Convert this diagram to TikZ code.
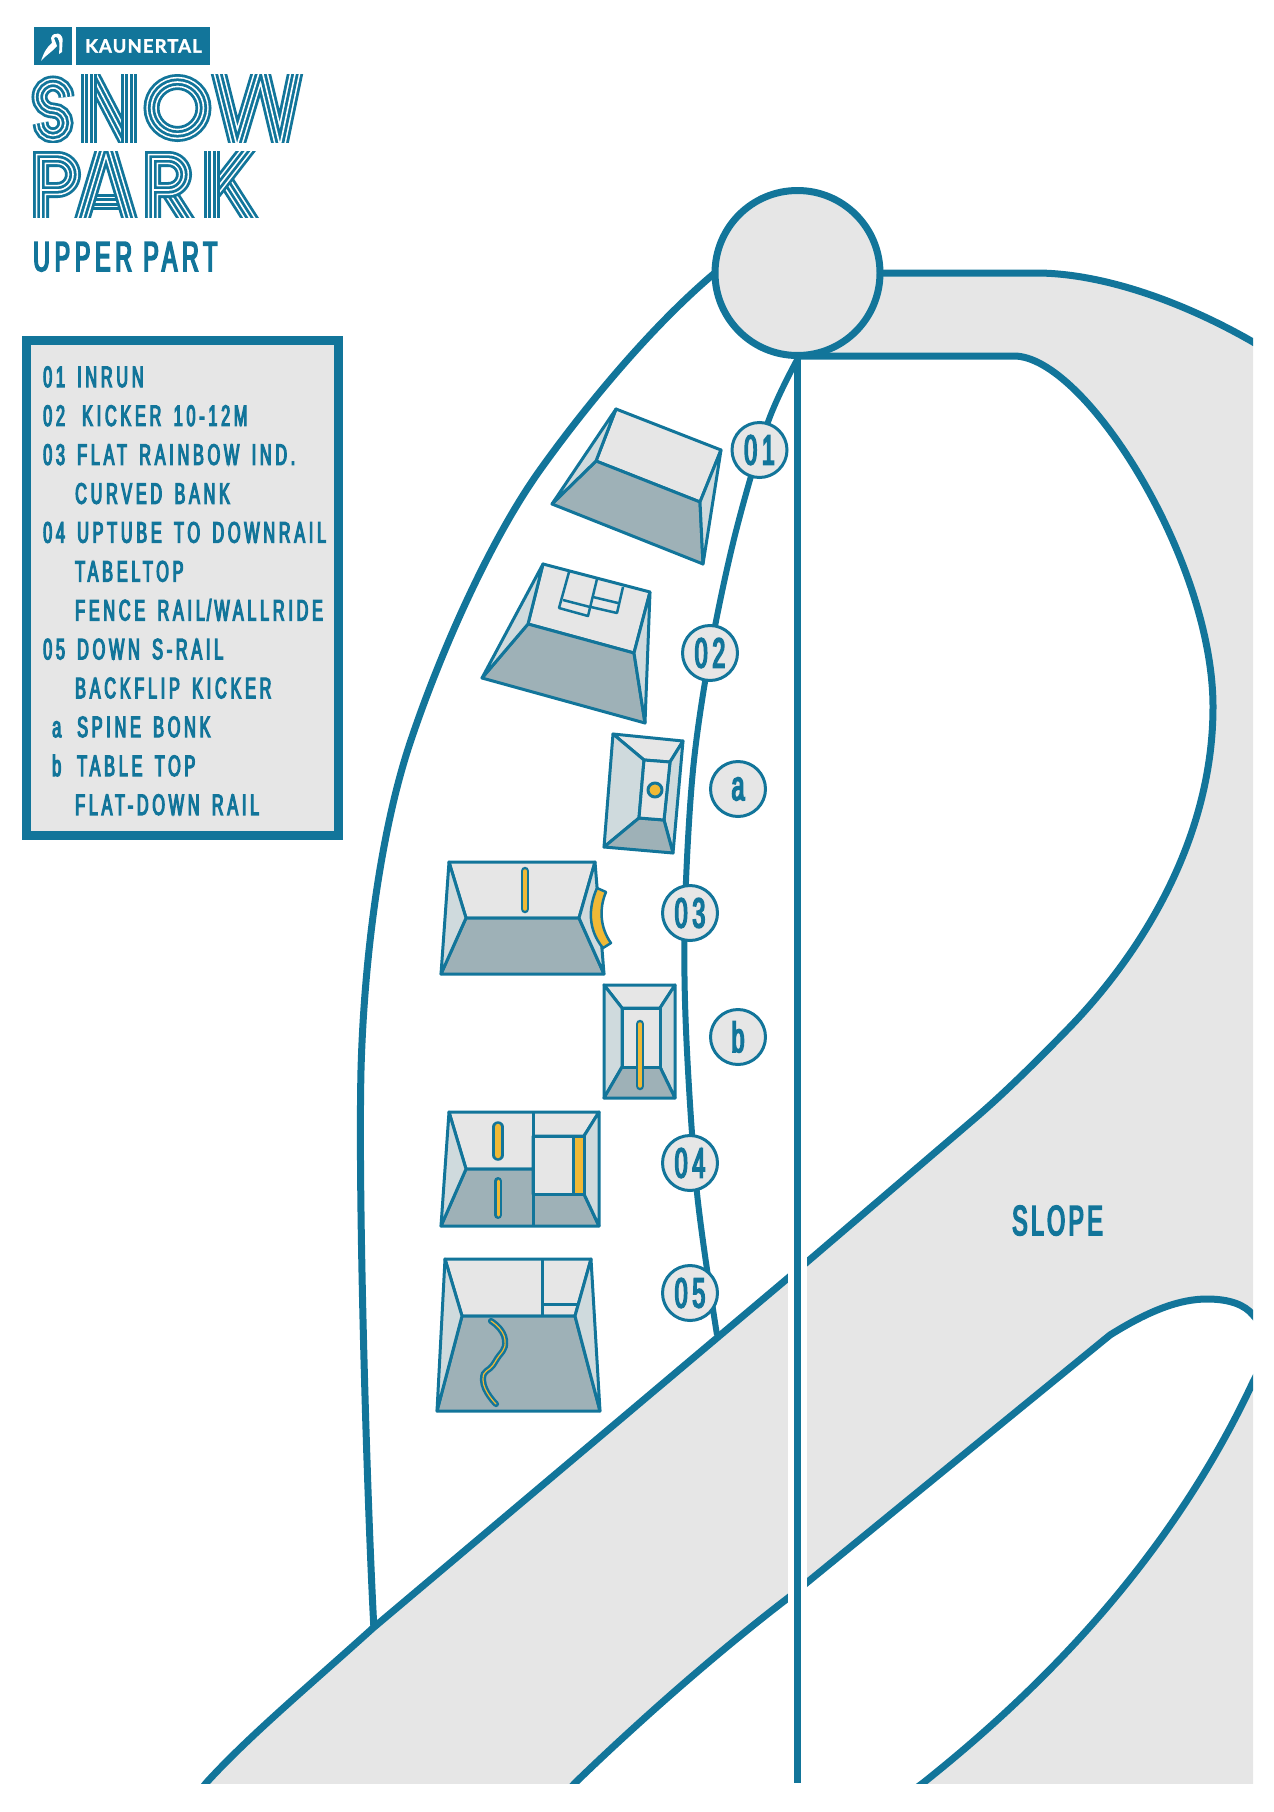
\documentclass[tikz,border=0pt]{standalone}
\usepackage{fontspec}
\newfontfamily\parkfont[FakeStretch=0.55,FakeBold=4,LetterSpace=11.5]{Liberation Sans}
\newfontfamily\listfont[FakeStretch=0.55,FakeBold=4,LetterSpace=12.7,WordSpace=1.5]{Liberation Sans}
\newfontfamily\logofont[LetterSpace=6,FakeBold=1.5]{Lato}
\definecolor{parkblue}{HTML}{12759A}
\definecolor{parkgrey}{HTML}{E6E6E6}
\definecolor{parkdark}{HTML}{9EB1B7}
\definecolor{parklight}{HTML}{CFDADD}
\definecolor{parkyellow}{HTML}{F0B936}
\tikzset{
  track/.style={draw=parkblue, line width=7pt},
  badge/.style={circle, draw=parkblue, fill=parkgrey, line width=3pt, minimum size=55pt, inner sep=0pt, text=parkblue, font=\parkfont\fontsize{42}{42}\selectfont},
  legend/.style={anchor=base west, inner sep=0pt, text=parkblue, font=\listfont\fontsize{29.5}{30}\selectfont},
  title/.style={anchor=base west, inner sep=0pt, text=parkblue, font=\parkfont\fontsize{42}{42}\selectfont},
  face/.style={draw=parkblue, line width=3pt, line join=round},
  topface/.style={face, fill=parkgrey},
  darkface/.style={face, fill=parkdark},
  sideface/.style={face, fill=parklight},
  rail/.style={draw=parkblue, line cap=round, line width=2.5pt, double=parkyellow, double distance=#1},
}
\newcommand{\stripes}[1]{\foreach \w/\c in {16/parkblue,10.4/white,7.2/parkblue,1.6/white} {\draw[line width=\w pt, \c, miter limit=20] #1;}}
\begin{document}
\begin{tikzpicture}[x=1pt,y=-1pt]
\useasboundingbox (0,0) rectangle (1274,1812);
% logo
\fill[parkblue] (34,27) rectangle (72,65);
\fill[parkblue] (76,27) rectangle (210,65);
\fill[white] (41,61) .. controls (44,52) and (47,47) .. (52,43) -- (51,38) .. controls (53,31) and (64,32) .. (62.5,42) -- (62,52) -- (59,54) -- (59.5,47) .. controls (60,38) and (56,35) .. (54,38) -- (57,46) .. controls (52,52) and (46,55) .. (41,61) -- cycle;
\node (kaunertal) at (143.5,46) [inner sep=0pt, text=white, font=\logofont\bfseries\fontsize{18.5}{18}\selectfont] {KAUNERTAL};
\begin{scope}
\clip (0,74) rectangle (320,142);
\stripes{(66.5,97) arc[start angle=0, end angle=-270, radius=13.5] arc[start angle=-90, end angle=180, radius=12.5]}
\stripes{(84,60) -- (134,156)}
\stripes{(89,60) -- (89,156)}
\stripes{(129,60) -- (129,156)}
\stripes{(177.5,108) circle [radius=26]}
\stripes{(213,50) -- (237,146) -- (261,66) -- (280,146) -- (300,50)}
\end{scope}
\begin{scope}
\clip (0,151) rectangle (320,217);
\stripes{(41,230) -- (41,159) -- (57.5,159) arc[start angle=-90, end angle=90, radius=15.5] -- (41,190)}
\stripes{(86,202) -- (130,202)}
\stripes{(76,240) -- (106,140) -- (136,240)}
\stripes{(165,186) -- (190,225)}
\stripes{(153,230) -- (153,159) -- (168.5,159) arc[start angle=-90, end angle=90, radius=15.5] -- (153,190)}
\stripes{(224,178) -- (254,225)}
\stripes{(214,192) -- (252,143)}
\stripes{(212,140) -- (212,230)}
\end{scope}
\node (upper) at (33,271) [title] {UPPER PART};
% legend box
\draw[draw=parkblue, fill=parkgrey, line width=9pt] (26.5,340) rectangle (338.5,835.5);
\foreach \i/\nx/\n/\x/\t in {0/43/01/77/INRUN, 1/43/02/82/KICKER 10-12M, 2/43/03/77/FLAT RAINBOW IND., 3/43//75/CURVED BANK, 4/43/04/77/UPTUBE TO DOWNRAIL, 5/43//75/TABELTOP, 6/43//75/FENCE RAIL\kern2pt\slash\kern3pt WALLRIDE, 7/43/05/77/DOWN S-RAIL, 8/43//75/BACKFLIP KICKER, 9/52/a/77/SPINE BONK, 10/52/b/77/TABLE TOP, 11/43//75/FLAT-DOWN RAIL} {
  \node (num\i) at (\nx,387+\i*38.9) [legend] {\n};
  \node (txt\i) at (\x,387+\i*38.9) [legend] {\t};
}
% runs
\draw[track] (716,272) .. controls (656,322) and (590,400) .. (540,470) .. controls (490,540) and (440,653) .. (410,743) .. controls (380,833) and (364,960) .. (361,1070) .. controls (358,1200) and (367,1500) .. (374,1630);
\draw[track, line width=6pt] plot[smooth,tension=0.55] coordinates {(797.5,359) (768,422) (735,535) (710,653) (693,770) (685,910) (686,1030) (697,1193) (717,1335)};
\begin{scope}
\clip (0,0) rectangle (1253,1783);
\draw[track, fill=parkgrey] (797.5,356) -- (1014,356) .. controls (1085,356) and (1213,560) .. (1213,707) .. controls (1213,830) and (1150,945) .. (1067,1030) .. controls (1030,1068) and (1000,1097) .. (973,1120) -- (807,1262) -- (373,1628) .. controls (310,1685) and (250,1735) .. (207,1782) -- (180,1815) -- (545,1815) -- (576,1782) .. controls (640,1720) and (720,1650) .. (788,1598) -- (1110,1335) .. controls (1150,1310) and (1180,1299) .. (1207,1299) .. controls (1230,1299) and (1245,1305) .. (1253,1315) -- (1275,1340) -- (1300,1340) -- (1300,370) -- (1253,342) .. controls (1180,300) and (1100,273) .. (1036,273) -- (797.5,273) -- cycle;
\draw[track, fill=parkgrey] (880,1815) -- (923,1783) .. controls (1040,1690) and (1170,1560) .. (1253,1382) -- (1290,1310) -- (1300,1310) -- (1300,1815) -- cycle;
\end{scope}
\fill[white] (788,400) rectangle (807,1783);
\draw[track] (797.5,359) -- (797.5,1783);
\draw[track, fill=parkgrey] (797.5,273) circle [radius=82.5];
\node (slope) at (1012,1235) [title] {\addfontfeature{LetterSpace=8}SLOPE};
% 01
\draw[topface] (616,409) -- (721,450) -- (700,502) -- (596,461) -- cycle;
\draw[darkface] (596,461) -- (700,502) -- (703,564) -- (552,504) -- cycle;
\draw[sideface] (616,409) -- (596,461) -- (552,504) -- cycle;
\draw[sideface] (721,450) -- (700,502) -- (703,564) -- cycle;
% 02
\draw[topface] (543,564) -- (650,592) -- (634,653) -- (528,624) -- cycle;
\draw[darkface] (528,624) -- (634,653) -- (645,723) -- (482,678) -- cycle;
\draw[sideface] (543,564) -- (528,624) -- (482,678) -- cycle;
\draw[sideface] (650,592) -- (634,653) -- (645,723) -- cycle;
\draw[face, line width=2.5pt] (569,572) -- (559,608) -- (588,616) -- (597,579);
\draw[face, line width=2.5pt] (563,600) -- (590,607);
\draw[face, line width=2.5pt] (623,587) -- (617,613) -- (591,607);
\draw[face, line width=2.5pt] (593,597) -- (618,603);
% a
\draw[topface] (613,734) -- (683,741) -- (670,762) -- (644,760) -- cycle;
\draw[sideface] (613,734) -- (644,760) -- (639,818) -- (604,847) -- cycle;
\draw[sideface] (683,741) -- (670,762) -- (664,820) -- (673,853) -- cycle;
\draw[darkface] (639,818) -- (664,820) -- (673,853) -- (604,847) -- cycle;
\draw[topface] (644,760) -- (670,762) -- (664,820) -- (639,818) -- cycle;
\draw[face, fill=parkyellow] (655,790) circle [radius=7];
% 03
\draw[topface] (449,862) -- (595,862) -- (579,918) -- (466,918) -- cycle;
\draw[darkface] (466,918) -- (579,918) -- (604,974) -- (441,974) -- cycle;
\draw[sideface] (449,862) -- (466,918) -- (441,974) -- cycle;
\draw[sideface] (595,862) -- (579,918) -- (604,974) -- cycle;
\draw[rail=3.5pt] (525,871) -- (525,909);
\draw[face, line width=2.5pt, fill=parkyellow] (597,888) -- (606,892) .. controls (599,908) and (600,928) .. (611,943) -- (603,948) .. controls (588,930) and (588,908) .. (597,888) -- cycle;
% b
\draw[topface] (604,985) -- (675,985) -- (660,1008) -- (622,1008) -- cycle;
\draw[sideface] (604,985) -- (622,1008) -- (622,1067) -- (604,1098) -- cycle;
\draw[sideface] (675,985) -- (660,1008) -- (660,1067) -- (675,1098) -- cycle;
\draw[darkface] (622,1067) -- (660,1067) -- (675,1098) -- (604,1098) -- cycle;
\draw[topface] (622,1008) -- (660,1008) -- (660,1067) -- (622,1067) -- cycle;
\draw[rail=3.5pt] (640,1024) -- (640,1086);
% 04
\draw[topface] (449,1112) -- (599,1112) -- (584,1136) -- (533,1136) -- (533,1169) -- (466,1169) -- cycle;
\draw[darkface] (466,1169) -- (533,1169) -- (533,1194) -- (584,1194) -- (599,1226) -- (441,1226) -- cycle;
\draw[sideface] (449,1112) -- (466,1169) -- (441,1226) -- cycle;
\draw[sideface] (599,1112) -- (584,1136) -- (584,1194) -- (599,1226) -- cycle;
\draw[topface] (533,1136) rectangle (584,1194);
\draw[face, fill=parkyellow] (573,1136) rectangle (584,1194);
\draw[face] (533,1112) -- (533,1226);
\draw[rail=6.5pt] (498,1127) -- (498,1155);
\draw[rail=3pt] (498,1181) -- (498,1215);
% 05
\draw[topface] (445,1259) -- (591,1259) -- (575,1316) -- (462,1316) -- cycle;
\draw[darkface] (462,1316) -- (575,1316) -- (600,1411) -- (437,1411) -- cycle;
\draw[sideface] (445,1259) -- (462,1316) -- (437,1411) -- cycle;
\draw[sideface] (591,1259) -- (575,1316) -- (600,1411) -- cycle;
\draw[face] (542,1259) -- (542,1316);
\draw[face] (542,1304) -- (577,1304);
\draw[rail=1.2pt] plot[smooth,tension=1] coordinates {(491,1321) (505,1340) (495,1362) (483,1380) (496,1404)};
% numbers
\node (n01) at (759.5,450) [badge] {01};
\node (n02) at (710,653) [badge] {02};
\node (na) at (738,789) [badge] {a};
\node (n03) at (690,913) [badge] {03};
\node (nb) at (738,1037) [badge] {b};
\node (n04) at (690,1163) [badge] {04};
\node (n05) at (690,1293) [badge] {05};
\end{tikzpicture}
\end{document}
